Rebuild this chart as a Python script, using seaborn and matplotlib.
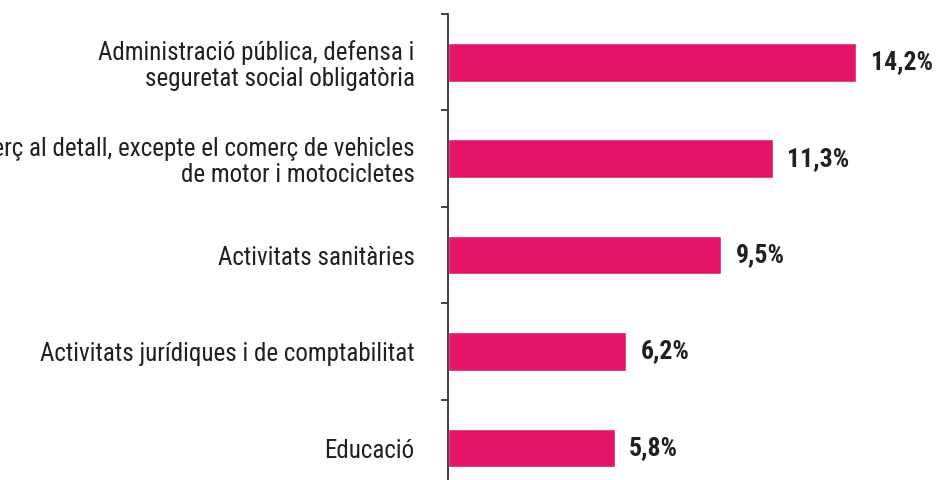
import seaborn as sns
import matplotlib.pyplot as plt
from matplotlib import font_manager as fm
import pandas as pd
import numpy as np

# sector labels and share of employment (%)
sectors = [
    "Administració pública, defensa i\nseguretat social obligatòria",
    "Comerç al detall, excepte el comerç de vehicles\nde motor i motocicletes",
    "Activitats sanitàries",
    "Activitats jurídiques i de comptabilitat",
    "Educació",
]
shares = [14.2, 11.3, 9.5, 6.2, 5.8]
value_labels = ["14,2%", "11,3%", "9,5%", "6,2%", "5,8%"]

bar_color = "#E5136A"
text_color = "#231F20"

sns.set_style("white")

# the original uses a condensed face; pick one installed, if any
family, stretch = "DejaVu Sans", "normal"
for key in ["robotocondensed", "liberationsansnarrow", "dejavusanscondensed",
            "notosanscondensed", "opensanscondensed", "condensed", "narrow"]:
    hits = [f for f in fm.fontManager.ttflist
            if key in f.fname.lower().replace("-", "").replace("_", "")]
    if hits:
        family, stretch = hits[0].name, hits[0].stretch
        break
plt.rcParams["font.family"] = [family, "DejaVu Sans"]
plt.rcParams["font.stretch"] = stretch

df = pd.DataFrame({"sector": sectors, "share": shares})

fig = plt.figure(figsize=(9.37, 4.8), dpi=100)
ax = fig.add_axes([448 / 937, 0, 489 / 937, 466 / 480])

sns.barplot(data=df, y="sector", x="share", orient="h", color=bar_color,
            width=0.4, saturation=1, ax=ax)

ax.set_xlabel("")
ax.set_ylabel("")
ax.set_xticks([])

for s in ["top", "right", "bottom"]:
    ax.spines[s].set_visible(False)
ax.spines["left"].set_color("#333333")
ax.spines["left"].set_linewidth(1.3)

# labels sit at the category centres, tick marks at the boundaries
ax.set_yticks(np.arange(len(sectors)))
ax.set_yticklabels(sectors, fontsize=18, color=text_color, linespacing=1.1)
ax.tick_params(axis="y", which="major", left=False, length=0, pad=24)
ax.set_yticks(np.arange(len(sectors) + 1) - 0.5, minor=True)
ax.tick_params(axis="y", which="minor", left=True, length=5, width=1.3,
               color="#333333")

ax.set_xlim(0, 17)
ax.set_ylim(4.33, -0.5)

for i, (v, lab) in enumerate(zip(shares, value_labels)):
    ax.text(v + 0.5, i, lab, va="center", ha="left", fontsize=18.5,
            fontweight="bold", color=text_color)

plt.savefig("out.png", dpi=100)
